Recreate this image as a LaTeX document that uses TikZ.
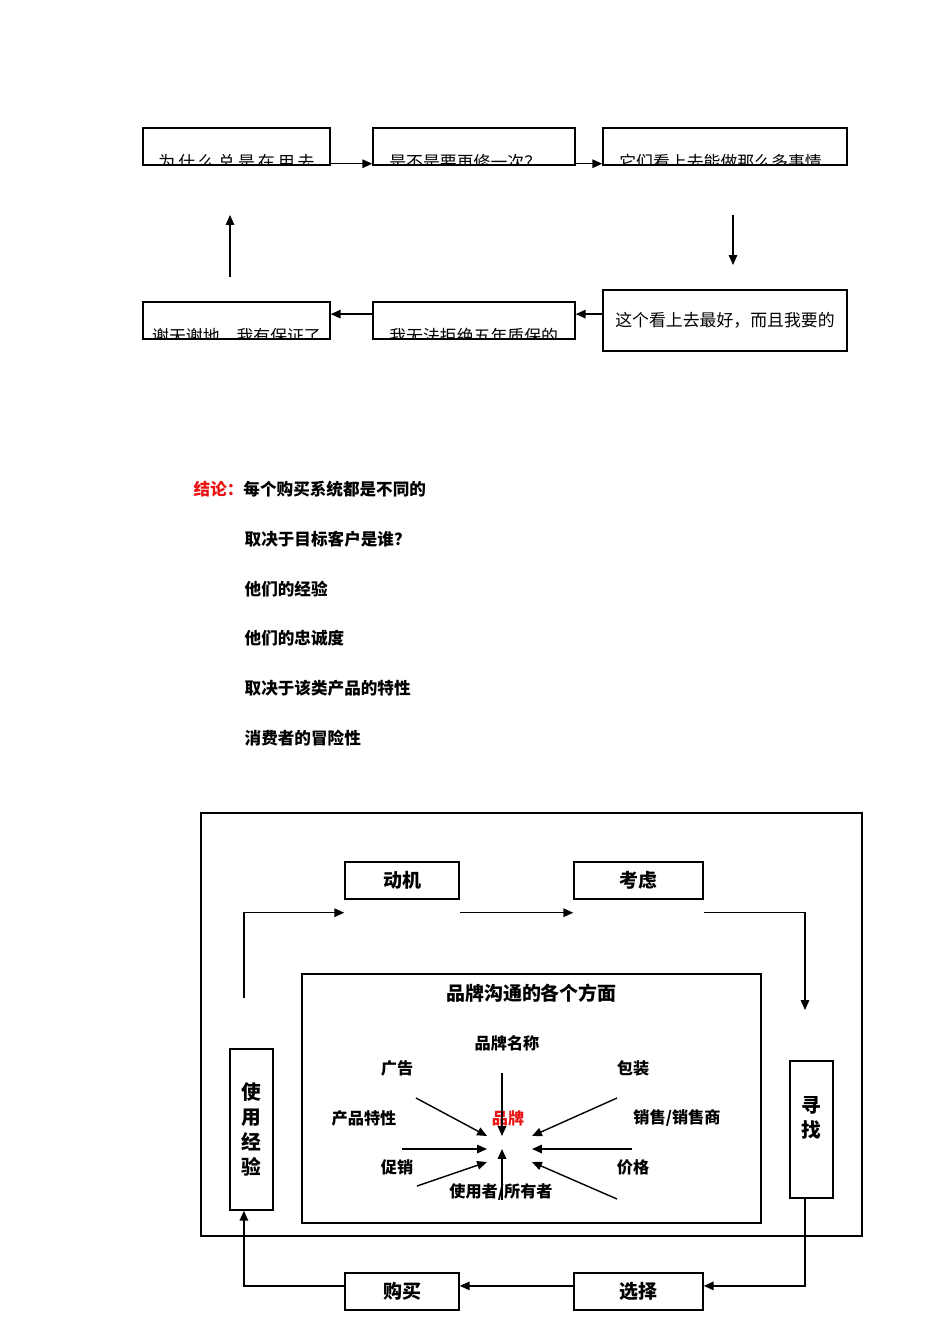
\documentclass[tikz,border=0pt]{standalone}
\usepackage{fontspec}
\setmainfont{Noto Sans CJK SC}
\usetikzlibrary{arrows.meta}
\definecolor{brandred}{RGB}{235,20,20}

\begin{document}
\begin{tikzpicture}[x=0.025cm,y=-0.025cm,>={Triangle[length=7pt,width=6pt]},line width=1pt,
    box/.style={draw,inner sep=0pt},
    cut/.style={font=\fontsize{12}{14}\selectfont,anchor=west},
    big/.style={font=\fontsize{13.5}{16}\selectfont\bfseries},
    lbl/.style={font=\fontsize{11.5}{14}\selectfont\bfseries},
    note/.style={font=\fontsize{11.8}{14}\selectfont\bfseries,anchor=west,inner sep=0pt}]
    \useasboundingbox (0,0) rectangle (950,1344);

    % top cycle
    \node [box, minimum width=46.75mm, minimum height=9.25mm] (why) at (236.5,146.5) {};
    \node [box, minimum width=50.5mm, minimum height=9.25mm] (again) at (474,146.5) {};
    \node [box, minimum width=61mm, minimum height=9.25mm] (many) at (725,146.5) {};
    \node [box, minimum width=61mm, minimum height=15.25mm, font=\fontsize{12}{14}\selectfont] (best) at (725,320.5) {这个看上去最好，而且我要的};
    \node [box, minimum width=50.5mm, minimum height=9.25mm] (warranty) at (474,320.5) {};
    \node [box, minimum width=46.75mm, minimum height=9.25mm] (thanks) at (236.5,320.5) {};

    \begin{scope}
        \clip (why.south west) rectangle (why.north east);
        \node [cut, anchor=center] (whyt) at ([yshift=-3.8mm]why.center) {\addfontfeature{LetterSpace=18}为什么总是在用去};
    \end{scope}
    \begin{scope}
        \clip (again.south west) rectangle (again.north east);
        \node [cut] (againt) at ([xshift=2.9mm,yshift=-3.8mm]again.west) {是不是要再修一次？};
    \end{scope}
    \begin{scope}
        \clip (many.south west) rectangle (many.north east);
        \node [cut] (manyt) at ([xshift=2.9mm,yshift=-3.8mm]many.west) {它们看上去能做那么多事情};
    \end{scope}
    \begin{scope}
        \clip (warranty.south west) rectangle (warranty.north east);
        \node [cut] (warrantyt) at ([xshift=2.9mm,yshift=-4mm]warranty.west) {我无法拒绝五年质保的};
    \end{scope}
    \begin{scope}
        \clip (thanks.south west) rectangle (thanks.north east);
        \node [cut, anchor=center] (thankst) at ([yshift=-4mm]thanks.center) {谢天谢地，我有保证了};
    \end{scope}

    \coordinate (dtop) at (733,215);
    \coordinate (dbot) at (733,265);
    \coordinate (ubot) at (230,277);
    \coordinate (utop) at (230,215);

    \draw [->] ([yshift=.5mm]why.south east) -- ([yshift=.5mm]again.south west);
    \draw [->] ([yshift=.5mm]again.south east) -- ([yshift=.5mm]many.south west);
    \draw [->] (dtop) -- (dbot);
    \draw [->] ([yshift=1.6mm]best.west) -- ([yshift=1.6mm]warranty.east);
    \draw [->] ([yshift=1.6mm]warranty.west) -- ([yshift=1.6mm]thanks.east);
    \draw [->] (ubot) -- (utop);

    % conclusion
    \node [note] (c0) at (193,489) {{\color{brandred}结论：}每个购买系统都是不同的};
    \node [note] (c1) at (244,539) {取决于目标客户是谁？};
    \node [note] (c2) at (244,589) {他们的经验};
    \node [note] (c3) at (244,638) {他们的忠诚度};
    \node [note] (c4) at (244,688) {取决于该类产品的特性};
    \node [note] (c5) at (244,738) {消费者的冒险性};

    % buying system
    \draw [line width=1.2pt] (201,813) rectangle (862,1236);
    \node [box, big, minimum width=28.5mm, minimum height=9.25mm] (motive) at (402,880.5) {动机};
    \node [box, big, minimum width=32.25mm, minimum height=9.25mm] (consider) at (638.5,880.5) {考虑};
    \node [box, big, minimum width=32.25mm, minimum height=9.25mm] (select) at (638.5,1291.5) {选择};
    \node [box, big, minimum width=28.5mm, minimum height=9.25mm] (buy) at (402,1291.5) {购买};
    \node [box, align=center, minimum width=10.75mm, minimum height=40.25mm, font=\fontsize{14}{17.7}\selectfont\bfseries] (use) at (251.5,1129.5) {使\\用\\经\\验};
    \node [box, minimum width=10.75mm, minimum height=34.25mm] (search) at (811.5,1129.5) {};
    \node [align=center, font=\fontsize{14}{17.7}\selectfont\bfseries] (searcht) at (811.5,1117.5) {寻\\找};
    \node [box, minimum width=114.75mm, minimum height=62.25mm] (aspects) at (531.5,1098.5) {};
    \node [big] (title) at (531.5,993) {品牌沟通的各个方面};

    \coordinate (ustart) at (244,998);
    \coordinate (send) at (805,1010);
    \draw [->] (ustart) |- ([yshift=-3.25mm]motive.south west);
    \draw [->] ([yshift=-3.25mm]motive.south east) -- ([yshift=-3.25mm]consider.south west);
    \draw [->] ([yshift=-3.25mm]consider.south east) -| (send);
    \draw [->] ([xshift=-1.6mm]search.south) |- ([yshift=1.4mm]select.east);
    \draw [->] ([yshift=1.4mm]select.west) -- ([yshift=1.4mm]buy.east);
    \draw [->] ([yshift=1.4mm]buy.west) -| ([xshift=-1.9mm]use.south);

    % aspects of brand communication
    \node [lbl] (name) at (507,1043) {品牌名称};
    \node [lbl] (ad) at (397,1068) {广告};
    \node [lbl] (pack) at (633,1068) {包装};
    \node [lbl] (feat) at (364,1118) {产品特性};
    \node [lbl, text=brandred] (brand) at (508,1118) {品牌};
    \node [lbl] (sales) at (677,1118) {销售/销售商};
    \node [lbl] (promo) at (397,1167) {促销};
    \node [lbl] (price) at (633,1167) {价格};
    \node [lbl] (owner) at (501,1192) {使用者/所有者};

    \coordinate (n0) at (502,1073);
    \coordinate (n1) at (502,1136);
    \coordinate (a0) at (416,1098);
    \coordinate (a1) at (487,1136);
    \coordinate (p0) at (617,1098);
    \coordinate (p1) at (532,1136);
    \coordinate (f0) at (402,1149);
    \coordinate (f1) at (487,1149);
    \coordinate (r0) at (632,1149);
    \coordinate (r1) at (532,1149);
    \coordinate (m0) at (417,1186);
    \coordinate (m1) at (487,1162);
    \coordinate (q0) at (617,1199);
    \coordinate (q1) at (532,1162);
    \coordinate (o0) at (502,1200);
    \coordinate (o1) at (502,1149);

    \draw [->] (n0) -- (n1);
    \draw [->] (a0) -- (a1);
    \draw [->] (p0) -- (p1);
    \draw [->] (f0) -- (f1);
    \draw [->] (r0) -- (r1);
    \draw [->] (m0) -- (m1);
    \draw [->] (q0) -- (q1);
    \draw [->] (o0) -- (o1);

\end{tikzpicture}
\end{document}
